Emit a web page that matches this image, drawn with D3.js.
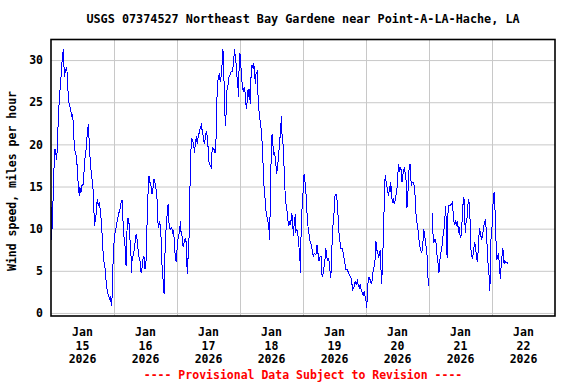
<!DOCTYPE html>
<html>
<head>
<meta charset="utf-8">
<script src="https://cdn.jsdelivr.net/npm/d3@7"></script>
<style>
body { margin: 0; background: #fff; }
text { font-family: "DejaVu Sans Mono", "Liberation Mono", monospace; font-weight: bold; font-size: 11.5px; }
</style>
</head>
<body>
<script>
const title = "USGS 07374527 Northeast Bay Gardene near Point-A-LA-Hache, LA";
const yLabel = "Wind speed, miles per hour";
const footer = "---- Provisional Data Subject to Revision ----";
const start = new Date(2026, 0, 15);
const end = new Date(2026, 0, 23);
const yTicks = [0, 5, 10, 15, 20, 25, 30];

// hours after Jan 15 2026 00:00
const hours = [0.1,0.3,0.5,0.7,1.1,1.5,2.2,2.4,2.8,3.2,3.7,4.1,4.5,4.7,5.1,5.4,6.0,6.4,6.6,7.0,
 7.5,7.9,8.3,8.5,8.9,9.3,9.6,10.0,10.4,10.8,11.0,11.4,11.8,12.3,12.7,13.1,13.4,13.8,14.2,14.5,
 14.7,15.0,15.4,15.7,16.0,16.3,16.5,16.9,17.3,17.6,18.0,18.4,18.9,19.3,19.7,20.1,20.5,20.8,21.2,21.6,
 22.0,22.4,22.7,23.0,23.4,23.6,24.0,24.4,24.8,25.1,25.5,25.9,26.3,26.7,27.1,27.4,27.8,28.2,28.6,29.0,
 29.3,29.7,30.0,30.5,30.6,30.9,31.2,31.6,32.0,32.4,32.8,33.1,33.5,33.9,34.3,34.7,35.0,35.4,35.8,36.2,
 36.6,37.0,37.3,37.7,38.1,38.5,38.9,39.2,39.6,40.0,40.4,40.6,41.0,41.4,41.8,42.2,42.4,42.8,43.1,43.3,
 43.5,43.9,44.3,44.6,44.8,45.2,45.6,46.0,46.4,46.7,47.1,47.4,47.7,48.1,48.5,48.9,49.3,49.5,49.9,50.3,
 50.7,51.1,51.4,51.7,51.9,52.2,52.5,52.7,53.0,53.2,53.6,54.0,54.4,54.7,55.0,55.4,55.7,56.1,56.5,56.9,
 57.3,57.6,58.0,58.4,58.8,59.2,59.5,59.8,60.2,60.6,61.0,61.3,61.7,62.1,62.5,62.9,63.1,63.5,63.9,64.1,
 64.5,64.9,65.3,65.5,65.8,66.0,66.3,66.6,66.8,67.1,67.4,67.8,68.2,68.6,69.0,69.3,69.7,70.0,70.2,70.6,
 70.9,71.2,71.5,71.7,72.0,72.3,72.7,73.0,73.3,73.6,74.0,74.3,74.6,74.8,75.1,75.3,75.6,75.9,76.3,76.6,
 77.0,77.2,77.6,77.8,78.1,78.5,78.7,79.1,79.5,79.9,80.3,80.7,81.0,81.4,81.8,82.2,82.6,83.0,83.2,83.4,
 83.7,83.9,84.2,84.5,84.8,85.2,85.6,86.0,86.4,86.8,87.1,87.5,87.7,88.0,88.3,88.7,89.0,89.3,89.8,90.2,
 90.6,90.9,91.3,91.7,92.1,92.3,92.7,93.1,93.3,93.7,94.1,94.5,94.8,95.0,95.2,95.5,95.7,96.1,96.4,96.7,
 97.0,97.3,97.6,98.0,98.4,98.8,99.2,99.6,99.9,100.3,100.7,101.1,101.3,101.7,102.1,102.5,102.9,103.2,103.5,103.9,
 104.3,104.7,105.0,105.4,105.8,106.2,106.6,106.8,107.2,107.6,107.9,108.2,108.6,109.0,109.3,109.6,110.0,110.4,110.8,111.1,
 111.5,111.9,112.3,112.7,113.0,113.4,113.8,114.2,114.6,114.8,115.2,115.6,115.9,116.3,116.7,117.1,117.5,117.8,118.2,118.6,
 119.0,119.3,119.6,120.0,120.3,120.5,120.9,121.3,121.7,122.0,122.4,122.8,123.2,123.6,123.8,124.1,124.5,124.8,125.2,125.5,
 125.7,126.0,126.2,126.5,126.8,127.0,127.3,127.5,127.9,128.3,128.7,128.9,129.2,129.4,129.7,130.0,130.4,130.8,131.2,131.6,
 131.9,132.2,132.5,132.7,133.0,133.2,133.5,133.7,134.0,134.4,134.7,135.0,135.4,135.6,135.9,136.3,136.5,136.8,137.0,137.3,
 137.6,138.0,138.4,138.7,138.9,139.3,139.7,140.1,140.5,140.8,141.2,141.6,142.0,142.4,142.7,143.1,143.5,143.7,144.5,145.3,
 145.5,145.8,146.2,146.6,146.8,147.2,147.6,147.8,148.1,148.5,148.9,149.3,149.7,150.1,150.4,150.6,150.9,151.1,151.4,151.7,
 152.1,152.5,152.9,153.2,153.4,153.8,154.2,154.6,154.9,155.2,155.4,155.7,155.9,156.3,156.6,156.9,157.1,157.3,157.6,157.8,
 158.1,158.5,158.9,159.1,159.4,159.7,159.9,160.2,160.6,160.9,161.3,161.7,162.1,162.5,162.8,163.2,163.6,164.0,164.4,164.7,
 165.1,165.5,165.9,166.2,166.4,166.7,167.0,167.2,167.4,167.6,167.9,168.1,168.4,168.8,169.0,169.3,169.5,169.8,170.2,170.5,
 170.9,171.2,171.4,171.8,172.1,172.3,172.6,172.9,173.2,173.6,174.0];

// wind speed, mph (null = no data)
const speed = [8.7,12.6,10.0,12.5,16.9,19.5,18.2,20.0,23.0,25.6,27.4,29.4,30.8,31.3,28.0,28.6,29.2,27.0,25.2,24.8,
 24.0,23.4,23.6,21.8,19.8,18.8,18.7,17.3,15.1,13.9,14.9,14.3,15.1,15.3,17.3,19.0,19.4,21.2,22.4,20.6,
 19.0,18.0,16.3,15.7,14.7,13.1,10.3,11.1,11.9,13.5,12.7,13.1,11.9,10.3,7.9,6.2,5.6,4.6,3.0,2.4,
 2.0,1.6,2.0,0.8,2.4,5.6,8.3,9.5,10.1,10.7,11.3,11.9,12.3,13.1,13.4,11.1,9.1,7.9,5.6,10.3,
 11.3,10.7,9.1,6.7,4.8,6.3,6.7,7.3,8.3,9.3,8.7,7.7,6.7,6.2,4.8,5.4,6.3,6.7,5.2,6.2,
 10.7,14.5,16.3,15.5,15.1,14.1,14.9,15.9,15.5,14.7,13.5,11.1,10.1,10.9,9.9,6.5,4.8,3.6,2.2,4.8,
 8.3,10.3,11.9,12.9,11.1,10.1,9.9,10.1,9.5,9.7,7.9,6.3,6.2,7.9,9.1,9.5,10.9,9.7,9.1,7.9,
 8.3,8.9,8.7,6.7,4.6,6.5,6.7,12.3,15.5,18.7,20.8,20.4,19.8,19.0,20.2,21.0,20.0,21.0,21.4,22.0,
 22.3,21.6,21.0,20.0,20.8,21.6,21.0,19.8,17.9,17.5,17.3,19.0,19.6,19.4,19.0,20.8,24.6,27.4,28.0,28.4,
 27.4,28.2,30.2,31.3,28.6,26.6,23.2,22.2,25.6,26.6,27.0,28.0,28.2,28.6,28.6,29.0,30.4,31.3,30.2,29.4,
 27.8,26.8,25.6,30.6,30.8,29.4,27.6,26.6,26.2,26.8,26.0,24.6,24.2,26.0,26.6,25.6,26.6,24.8,29.0,29.4,
 29.0,29.6,28.6,27.2,28.4,28.6,26.8,24.4,23.2,22.2,21.0,18.5,15.5,14.3,12.3,11.5,10.9,10.3,8.7,10.9,
 15.1,19.4,21.2,20.2,18.7,19.0,17.9,16.5,17.7,19.0,20.6,21.2,23.4,21.2,20.6,17.9,15.7,13.3,12.5,11.1,
 10.3,10.9,10.5,11.9,10.9,9.1,10.9,11.7,9.7,9.9,9.1,7.7,6.7,4.8,8.7,11.1,13.1,14.5,16.5,15.7,
 15.1,13.1,11.5,9.9,9.1,8.3,8.1,7.3,6.7,7.1,6.9,7.1,8.1,7.1,6.2,6.7,6.7,4.6,4.4,5.2,
 6.0,7.7,6.7,6.3,6.5,5.2,4.2,5.6,9.5,11.1,12.1,13.9,14.1,13.3,11.9,9.9,8.7,7.7,7.7,7.5,
 6.7,6.0,5.2,5.2,5.0,4.8,4.4,4.2,3.8,2.6,3.0,3.2,3.8,3.4,3.8,3.2,3.0,3.4,2.6,2.4,
 2.0,2.6,2.0,1.4,0.6,2.4,4.2,4.2,3.8,3.4,4.0,5.2,5.6,6.7,8.5,7.5,7.1,6.5,7.3,7.5,
 5.2,3.4,5.4,7.9,10.9,14.3,16.3,15.9,15.1,14.3,13.9,15.1,14.3,15.5,14.5,13.1,13.5,12.9,13.5,14.3,
 15.1,16.7,17.7,16.7,17.1,17.3,16.7,15.5,16.3,16.9,17.3,16.3,15.5,12.5,13.7,16.7,17.3,17.7,16.1,15.1,
 15.5,15.5,15.1,13.9,12.3,10.9,10.3,8.9,7.9,7.5,7.1,7.9,9.9,9.1,8.3,7.5,5.6,3.2,null,11.9,
 9.5,8.3,8.7,8.7,7.5,6.5,5.6,4.8,6.2,7.1,7.7,9.1,9.9,11.5,12.7,9.9,6.5,11.1,12.7,12.7,
 12.8,12.9,13.1,11.9,10.9,10.5,10.9,10.3,10.9,9.5,10.3,9.7,8.9,9.3,10.9,12.7,13.3,13.7,11.9,9.5,
 10.7,11.3,13.1,13.5,12.7,10.7,7.9,6.7,6.5,7.1,8.3,8.1,6.5,6.0,7.9,10.1,9.5,8.7,9.1,9.9,
 10.7,11.1,9.5,7.5,6.2,5.2,4.0,2.6,6.3,8.7,9.7,10.7,13.1,14.3,13.3,11.1,8.7,6.3,6.7,7.1,
 5.2,4.0,5.2,6.7,7.7,7.1,5.8,6.2,6.0,6.0,5.9];

const data = hours.map((h, i) => ({t: d3.timeMinute.offset(start, Math.round(h * 60)), v: speed[i]}));

let svg = d3.select("body").append("svg")
    .attr("width", 576)
    .attr("height", 384);

let x = d3.scaleTime().domain([start, end]).range([51, 555]);
let y = d3.scaleLinear().domain([-0.36, 32.5]).range([316, 39]);

// horizontal grid
svg.append("g")
    .attr("transform", "translate(51,0)")
    .call(d3.axisLeft(y).tickValues(yTicks).tickSize(-504).tickFormat(""))
    .call(g => g.select(".domain").remove())
    .call(g => g.selectAll("line").attr("stroke", "#c8c8c8"));

// vertical grid at midnight
svg.append("g")
    .attr("transform", "translate(0,316)")
    .call(d3.axisBottom(x).tickValues(d3.timeDay.range(d3.timeDay.offset(start, 1), end)).tickSize(-277).tickFormat(""))
    .call(g => g.select(".domain").remove())
    .call(g => g.selectAll("line").attr("stroke", "#c8c8c8"));

// y tick labels
svg.append("g")
    .attr("transform", "translate(51,0)")
    .call(d3.axisLeft(y).tickValues(yTicks).tickSize(0).tickPadding(8))
    .call(g => g.select(".domain").remove())
    .call(g => g.selectAll("text").attr("fill", "#000").style("font-size", "11.5px").style("font-family", null));

// x labels centred on noon of each day
let days = d3.timeDay.range(start, end);
let xl = svg.append("g").selectAll("text")
    .data(days)
    .enter()
    .append("text")
    .attr("text-anchor", "middle")
    .attr("x", d => x(d3.timeHour.offset(d, 12)))
    .attr("y", 336);
xl.append("tspan").attr("x", d => x(d3.timeHour.offset(d, 12))).attr("dy", 0).text(d => d3.timeFormat("%b")(d));
xl.append("tspan").attr("x", d => x(d3.timeHour.offset(d, 12))).attr("dy", 13.5).text(d => d3.timeFormat("%-d")(d));
xl.append("tspan").attr("x", d => x(d3.timeHour.offset(d, 12))).attr("dy", 13.5).text(d => d3.timeFormat("%Y")(d));

// data line
let line = d3.line()
    .defined(d => d.v != null)
    .x(d => x(d.t))
    .y(d => y(d.v));

svg.append("path")
    .datum(data)
    .attr("d", line)
    .attr("fill", "none")
    .attr("stroke", "#0000ff")
    .attr("stroke-width", 1)
    .attr("shape-rendering", "crispEdges");

// frame
svg.append("rect")
    .attr("x", 51)
    .attr("y", 39.5)
    .attr("width", 504)
    .attr("height", 276.5)
    .attr("fill", "none")
    .attr("stroke", "#000")
    .attr("stroke-width", 1.6);

svg.append("text")
    .attr("x", 303)
    .attr("y", 23)
    .attr("text-anchor", "middle")
    .style("font-size", "11.8px")
    .text(title);

svg.append("text")
    .attr("transform", "translate(16,181) rotate(-90)")
    .attr("text-anchor", "middle")
    .text(yLabel);

svg.append("text")
    .attr("x", 303)
    .attr("y", 379)
    .attr("text-anchor", "middle")
    .attr("fill", "#ff0000")
    .text(footer);
</script>
</body>
</html>
